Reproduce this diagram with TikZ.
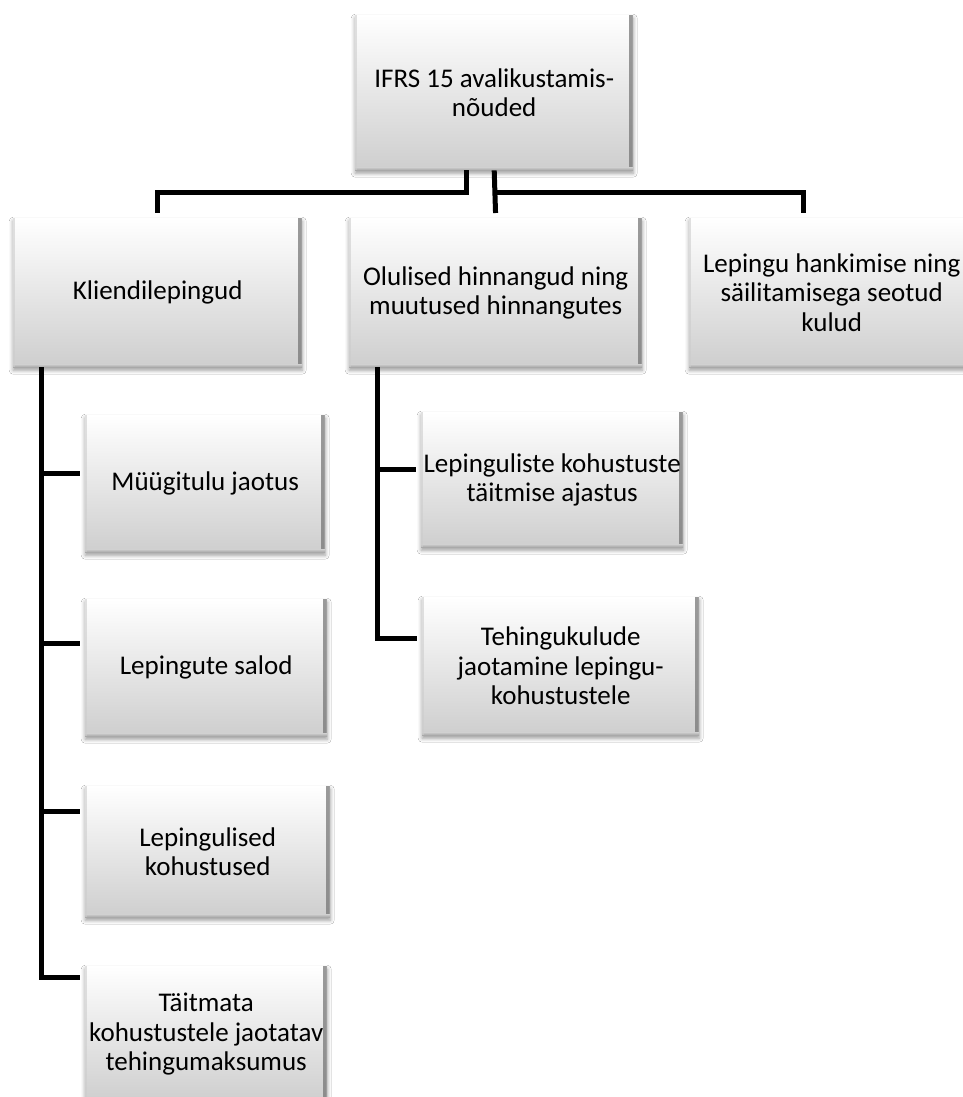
\documentclass[tikz,border=0pt]{standalone}
\usepackage{fontspec}
\setmainfont{Carlito}
\usetikzlibrary{shadows.blur}
\definecolor{boxbot}{RGB}{206,206,206}
\begin{document}
\begin{tikzpicture}[x=1pt,y=-1pt,
  box/.style={draw=none, top color=white, bottom color=boxbot,
    inner xsep=0pt, inner ysep=2pt, align=center, anchor=north west,
    font=\fontsize{27}{29.5}\selectfont,
    blur shadow={shadow xshift=0pt, shadow yshift=-3pt, shadow blur radius=4pt, shadow opacity=40},
    path picture={
      \fill[left color=white, right color=gray!65, opacity=0.45]
        ([xshift=-4pt]path picture bounding box.north east) rectangle (path picture bounding box.south east);
      \fill[gray!70, opacity=0.6]
        ([xshift=-1.5pt]path picture bounding box.north east) rectangle (path picture bounding box.south east);
      \fill[top color=boxbot, bottom color=gray!70]
        ([yshift=3pt]path picture bounding box.south west) rectangle (path picture bounding box.south east);
      \fill[gray!40, opacity=0.6]
        (path picture bounding box.north west) rectangle ([xshift=1.5pt]path picture bounding box.south west);
    }},
  conn/.style={line width=5pt, line join=miter, shorten >=5pt}]
\clip (0,0) rectangle (963,1097);
\fill[white] (0,0) rectangle (963,1097);

\node[box, minimum width=278, minimum height=155] (top) at (355,15) {IFRS 15 avalikustamis-\\nõuded};
\node[box, minimum width=289, minimum height=149] (K) at (13,218) {Kliendilepingud};
\node[box, minimum width=293, minimum height=149] (O) at (349,218) {Olulised hinnangud ning\\muutused hinnangutes};
\node[box, minimum width=285, minimum height=149] (L) at (689,218) {Lepingu hankimise ning\\säilitamisega seotud\\kulud};

\node[box, minimum width=240, minimum height=137] (M1) at (85,415) {Müügitulu jaotus};
\node[box, minimum width=242, minimum height=137] (M2) at (85,599) {Lepingute salod};
\node[box, minimum width=245, minimum height=131] (M3) at (85,786) {Lepingulised\\kohustused};
\node[box, minimum width=242, minimum height=136] (M4) at (85,966) {Täitmata\\kohustustele jaotatav\\tehingumaksumus};

\node[box, minimum width=262, minimum height=135] (C1) at (421,412) {Lepinguliste kohustuste\\täitmise ajastus};
\node[box, minimum width=277, minimum height=138] (C2) at (422,597) {Tehingukulude\\jaotamine lepingu-\\kohustustele};

\draw[conn] ([xshift=-28pt]top.south) -- ++(0,22) -| (K.north);
\draw[conn] (top.south) -- (O.north);
\draw[conn] (top.south) ++(0,22) -| ([xshift=-28pt]L.north);

\draw[conn] ([xshift=28pt]K.south west) |- ([yshift=10.5pt]M1.west);
\draw[conn] ([xshift=28pt]K.south west) |- ([yshift=24.5pt]M2.west);
\draw[conn] ([xshift=28pt]K.south west) |- ([yshift=40.5pt]M3.west);
\draw[conn] ([xshift=28pt]K.south west) |- ([yshift=57pt]M4.west);

\draw[conn] ([xshift=28pt]O.south west) |- ([yshift=10.5pt]C1.west);
\draw[conn] ([xshift=28pt]O.south west) |- ([yshift=28pt]C2.west);
\end{tikzpicture}
\end{document}
